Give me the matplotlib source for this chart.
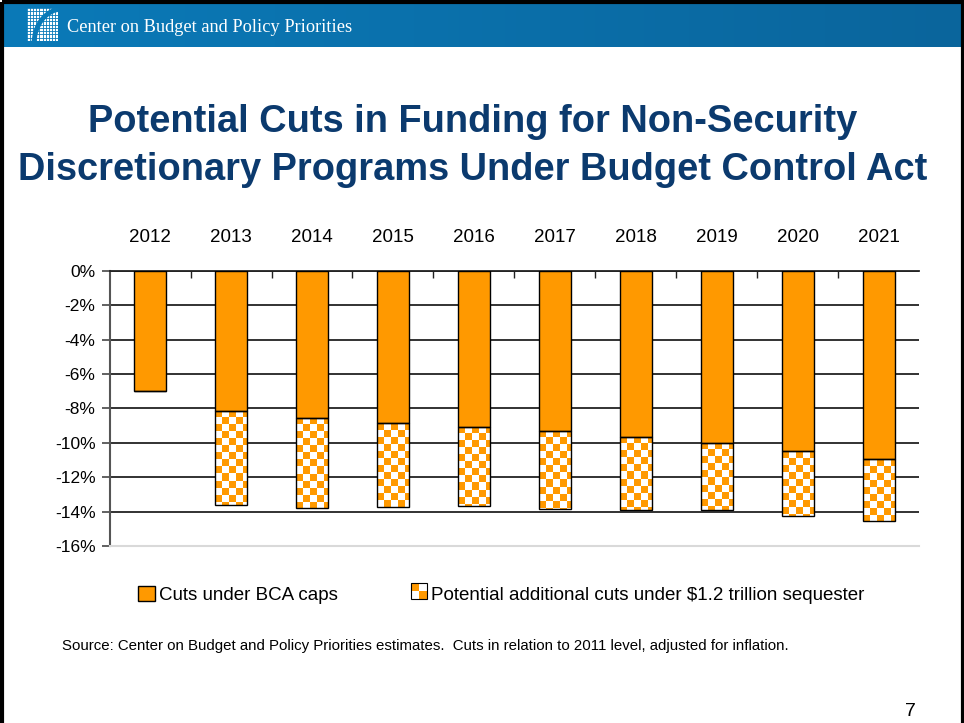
import numpy as np
import matplotlib.pyplot as plt
from matplotlib.colors import ListedColormap, LinearSegmentedColormap
from matplotlib.patches import Rectangle, Arc
from matplotlib.legend_handler import HandlerBase

years = ['2012', '2013', '2014', '2015', '2016', '2017', '2018', '2019', '2020', '2021']
bca_cuts = [-7.0, -8.15, -8.55, -8.83, -9.07, -9.3, -9.65, -10.0, -10.45, -10.93]
total_cuts = [-7.0, -13.63, -13.79, -13.71, -13.68, -13.85, -13.9, -13.9, -14.23, -14.52]
yticks = [0, -2, -4, -6, -8, -10, -12, -14, -16]

orange = '#ff9900'
navy = '#0b3a6e'
blue = '#0a7ab8'


class CheckerHandler(HandlerBase):
    def create_artists(self, legend, orig, xd, yd, w, h, fontsize, trans):
        s = min(w, h)
        x0 = xd + (w - s) / 2
        y0 = yd + (h - s) / 2
        arts = []
        for i in range(2):
            for j in range(2):
                c = orange if (i + j) % 2 == 0 else 'white'
                arts.append(Rectangle((x0 + i * s / 2, y0 + (1 - j) * s / 2), s / 2, s / 2,
                                      facecolor=c, edgecolor='none', transform=trans))
        arts.append(Rectangle((x0, y0), s, s, facecolor='none', edgecolor='black',
                              linewidth=0.8, transform=trans))
        return arts


fig = plt.figure(figsize=(9.64, 7.23), dpi=100)

# slide background, header band and frame (pixel coords)
bg = fig.add_axes([0, 0, 1, 1], zorder=-10)
grad = np.linspace(0, 1, 256).reshape(1, -1)
bg.imshow(grad, extent=[0, 964, 47, 3], aspect='auto',
          cmap=LinearSegmentedColormap.from_list('h', ['#0a7ab8', '#0a659c']))
bg.add_patch(Rectangle((1.5, 1.5), 961, 730, fill=False, edgecolor='black', linewidth=3))
# logo
logo = Rectangle((27, 8), 31, 33, facecolor='white', edgecolor='none')
bg.add_patch(logo)
for gx in np.arange(27, 59, 3.1):
    bg.plot([gx, gx], [8, 41], color=blue, lw=0.6)
for gy in np.arange(8, 42, 3.3):
    bg.plot([27, 58], [gy, gy], color=blue, lw=0.6)
arc = Arc((62, 44), 56, 70, theta1=180, theta2=270, color=blue, lw=3.5)
bg.add_patch(arc)
arc.set_clip_path(logo)
bg.set_xlim(0, 964)
bg.set_ylim(723, 0)
bg.axis('off')
bg.text(67, 27, 'Center on Budget and Policy Priorities', color='white',
        family='Liberation Serif', fontsize=13.2, va='center', ha='left')

fig.text(0.49, 0.798, 'Potential Cuts in Funding for Non-Security\nDiscretionary Programs Under Budget Control Act',
         ha='center', va='center', color=navy, fontsize=27.4, fontweight='bold',
         family='Liberation Sans', linespacing=1.4)

ax = fig.add_axes([0.1136, 0.2448, 0.8402, 0.3804])
x = np.arange(len(years))
width = 0.39
extra = [t - b for t, b in zip(total_cuts, bca_cuts)]
b1 = ax.bar(x, bca_cuts, width, color=orange, edgecolor='black', linewidth=1, zorder=3)
b2 = ax.bar(x, extra, width, bottom=bca_cuts, facecolor='none', edgecolor='black',
            linewidth=1, zorder=4)

cmap = ListedColormap([orange, 'white'])
cw = 0.0865
ch = 0.407
for p in b2.patches:
    x0, y0 = p.get_xy()
    w, h = p.get_width(), p.get_height()
    if abs(h) < 1e-6:
        continue
    nx = int(np.ceil(w / cw))
    ny = int(np.ceil(abs(h) / ch))
    arr = np.add.outer(np.arange(ny), np.arange(nx)) % 2
    im = ax.imshow(arr, extent=[x0, x0 + nx * cw, y0 - ny * ch, y0], cmap=cmap,
                   interpolation='nearest', aspect='auto', origin='upper', zorder=2.5)
    im.set_clip_path(p)

ax.set_xlim(-0.5, len(years) - 0.5)
ax.set_ylim(-16, 0)
ax.set_yticks(yticks)
ax.set_yticklabels([f'{v}%' for v in yticks], family='Liberation Sans', fontsize=12.5)
ax.yaxis.grid(True, color='#222222', linewidth=1.3)
ax.set_axisbelow(True)
ax.tick_params(axis='y', direction='out', length=6, width=1.3, color='#555555', pad=4)

ax.xaxis.tick_top()
ax.set_xticks(x)
ax.set_xticklabels(years, family='Liberation Sans', fontsize=13.5)
ax.tick_params(axis='x', which='major', length=0, pad=18)
ax.set_xticks(np.arange(0.5, len(years) - 1, 1), minor=True)
ax.tick_params(axis='x', which='minor', direction='in', length=5, width=1, color='#222222', top=True)

ax.spines['right'].set_visible(False)
ax.spines['left'].set_color('#555555')
ax.spines['left'].set_linewidth(1.5)
ax.spines['top'].set_color('#222222')
ax.spines['top'].set_linewidth(1.3)
ax.spines['bottom'].set_color('#d9d9d9')
ax.spines['bottom'].set_linewidth(1.5)

fig.legend([b1.patches[0], b2.patches[1]],
           ['Cuts under BCA caps', 'Potential additional cuts under $1.2 trillion sequester'],
           handler_map={b2.patches[1]: CheckerHandler()},
           loc='center', bbox_to_anchor=(0.52, 0.177), ncol=2, frameon=False,
           prop={'family': 'Liberation Sans', 'size': 13.5},
           handlelength=0.9, handleheight=0.9, handletextpad=0.2, columnspacing=3.9)

fig.text(0.064, 0.107, 'Source: Center on Budget and Policy Priorities estimates.  Cuts in relation to 2011 level, adjusted for inflation.',
         family='Liberation Sans', fontsize=10.8, ha='left', va='center')
fig.text(0.944, 0.016, '7', family='Liberation Sans', fontsize=14, ha='center', va='center')

fig.savefig('out.png', dpi=100)
